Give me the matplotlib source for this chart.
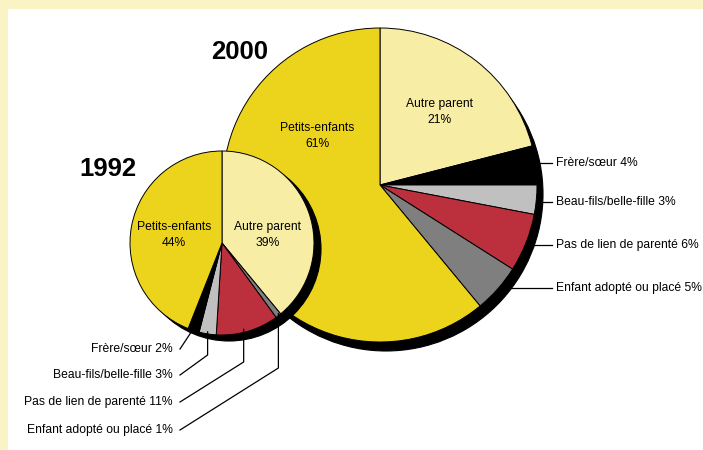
import numpy as np
import matplotlib
matplotlib.use("Agg")
import matplotlib.pyplot as plt
from matplotlib.patches import Circle, Rectangle

plt.rcParams['font.family'] = ['Liberation Sans', 'DejaVu Sans']
FS = 8.75
TFS = 18.5

# ---- data ----
cat_2000 = ["Autre parent", "Frère/sœur", "Beau-fils/belle-fille",
            "Pas de lien de parenté", "Enfant adopté ou placé", "Petits-enfants"]
val_2000 = [21, 4, 3, 6, 5, 61]
col_2000 = ["#F7EDA4", "#000000", "#C0C0C0", "#BC303E", "#7F7F7F", "#EDD41C"]

cat_1992 = ["Autre parent", "Enfant adopté ou placé", "Pas de lien de parenté",
            "Beau-fils/belle-fille", "Frère/sœur", "Petits-enfants"]
val_1992 = [39, 1, 11, 3, 2, 44]
col_1992 = ["#F7EDA4", "#7F7F7F", "#BC303E", "#C0C0C0", "#000000", "#EDD41C"]

W, H = 703, 450
fig = plt.figure(figsize=(W / 100, H / 100), dpi=100, facecolor="#FAF4C4")
ax = fig.add_axes([0, 0, 1, 1])


def Y(py):
    return H - py


ax.add_patch(Rectangle((8, 0), W - 8, Y(9), facecolor="white", edgecolor="none", zorder=0))


def draw_pie(vals, cols, cx, cy, r, sdx, sdy, z):
    ax.add_patch(Circle((cx + sdx, Y(cy + sdy)), r, facecolor="black",
                        edgecolor="black", lw=0.8, zorder=z))
    wedges, _ = ax.pie(vals, colors=cols, startangle=90, counterclock=False,
                       center=(cx, Y(cy)), radius=r, frame=True,
                       wedgeprops=dict(edgecolor="black", linewidth=0.7))
    for w in wedges:
        w.set_zorder(z + 1)
    return wedges


# large pie 2000
L_cx, L_cy, L_r = 380, 185, 157
w2000 = draw_pie(val_2000, col_2000, L_cx, L_cy, L_r, 6, 9, 2)
# small pie 1992
S_cx, S_cy, S_r = 222, 243, 92
w1992 = draw_pie(val_1992, col_1992, S_cx, S_cy, S_r, 7, 6, 5)

ax.set_xlim(0, W)
ax.set_ylim(0, H)
ax.set_aspect("equal")
ax.axis("off")

LS = 1.45
# in-pie labels
ax.text(317, Y(136), f"{cat_2000[5]}\n{val_2000[5]}%", ha="center", va="center",
        fontsize=FS, linespacing=LS, zorder=10)
ax.text(440, Y(112), f"{cat_2000[0]}\n{val_2000[0]}%", ha="center", va="center",
        fontsize=FS, linespacing=LS, zorder=10)
ax.text(174, Y(235), f"{cat_1992[5]}\n{val_1992[5]}%", ha="center", va="center",
        fontsize=FS, linespacing=LS, zorder=10)
ax.text(268, Y(235), f"{cat_1992[0]}\n{val_1992[0]}%", ha="center", va="center",
        fontsize=FS, linespacing=LS, zorder=10)

# titles
ax.text(211, Y(52), "2000", ha="left", va="center", fontsize=TFS,
        fontweight="bold", zorder=10)
ax.text(79, Y(169), "1992", ha="left", va="center", fontsize=TFS,
        fontweight="bold", zorder=10)

# outer labels for 2000 (right side)
lab_y_2000 = {1: 163, 2: 202, 3: 245, 4: 288}
for i, py in lab_y_2000.items():
    sx, sy = L_cx + 6, L_cy + 9
    dx = np.sqrt(max(L_r ** 2 - (py - sy) ** 2, 0))
    x0 = sx + dx - 3
    ax.plot([x0, 552], [Y(py), Y(py)], color="black", lw=0.9, zorder=9)
    ax.text(556, Y(py), f"{cat_2000[i]} {val_2000[i]}%", ha="left", va="center",
            fontsize=FS, zorder=10)

# outer labels for 1992 (bottom left), with leader lines to wedge mid angles
lab_1992 = {4: (349, None), 3: (375, 355), 2: (402, 362), 1: (430, 368)}
for i, (py, elbow) in lab_1992.items():
    w = w1992[i]
    ang = np.deg2rad((w.theta1 + w.theta2) / 2)
    ex = S_cx + S_r * np.cos(ang)
    ey = Y(S_cy) + S_r * np.sin(ang)
    if i == 2:
        ex -= 4
    xs = [180]
    ys = [Y(py)]
    if elbow is not None:
        xs.append(ex)
        ys.append(Y(elbow))
    xs.append(ex)
    ys.append(ey + 2)
    ax.plot(xs, ys, color="black", lw=0.9, zorder=9)
    ax.text(173, Y(py), f"{cat_1992[i]} {val_1992[i]}%", ha="right", va="center",
            fontsize=FS, zorder=10)

fig.savefig("out.png", dpi=100, facecolor=fig.get_facecolor())
